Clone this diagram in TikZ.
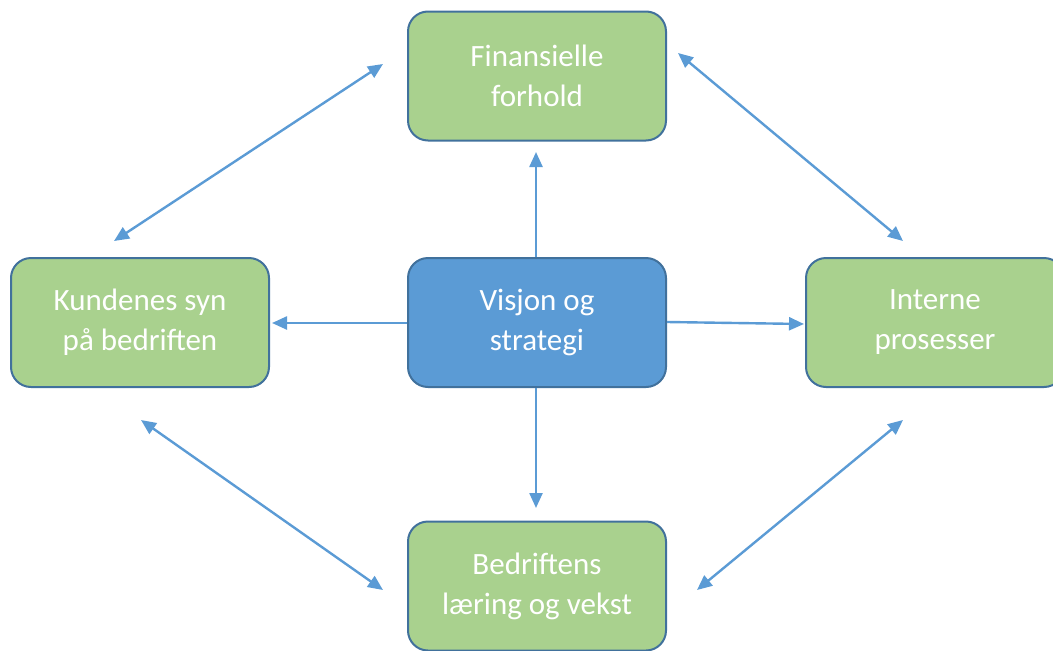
\documentclass[tikz,border=0pt]{standalone}
\usepackage{fontspec}
\setmainfont{Carlito}
\usetikzlibrary{arrows.meta}
\definecolor{boxgreen}{HTML}{A9D18E}
\definecolor{boxblue}{HTML}{5B9BD5}
\definecolor{boxedge}{HTML}{41719C}
\definecolor{arrowblue}{HTML}{5B9BD5}
\tikzset{
  card/.style={draw=boxedge, line width=2pt, rounded corners=20pt, fill=boxgreen,
    minimum width=258pt, minimum height=129pt, inner sep=0pt, align=center,
    text=white, font=\fontsize{31}{40}\selectfont},
  maincard/.style={card, fill=boxblue},
  link/.style={draw=arrowblue, line width=2.4pt, -{Triangle[length=15pt,width=13pt]}},
  dlink/.style={draw=arrowblue, line width=2.4pt, {Triangle[length=15pt,width=13pt]}-{Triangle[length=15pt,width=13pt]}}
}
\begin{document}
\begin{tikzpicture}[x=1pt,y=-1pt]
\useasboundingbox (0,0) rectangle (1053,651);
\node[card] (fin) at (537,76) {Finansielle\\forhold};
\node[maincard] (vis) at (537,322.5) {Visjon og\\strategi};
\node[card] (kun) at (140,322.5) {Kundenes syn\\på bedriften};
\node[card] (int) at (935,322.5) {Interne\\prosesser};
\node[card] (bed) at (537,586) {Bedriftens\\læring og vekst};
% free ends of the straight arrows
\coordinate (tfin) at (536,152);
\coordinate (tkun) at (272,323);
\coordinate (tint) at (804,324);
\coordinate (tbed) at (536,508);
\draw[link] (vis.north -| tfin) -- (tfin);
\draw[link] (vis.west |- tkun) -- (tkun);
\draw[link] (vis.east |- 0,322) -- (tint);
\draw[link] (vis.south -| tbed) -- (tbed);
% diagonal double arrows
\coordinate (a1) at (114,241); \coordinate (a2) at (383,64);
\coordinate (b1) at (678,53);  \coordinate (b2) at (903,241);
\coordinate (c1) at (141,420); \coordinate (c2) at (383,590);
\coordinate (d1) at (903,420); \coordinate (d2) at (697,590);
\draw[dlink] (a1) -- (a2);
\draw[dlink] (b1) -- (b2);
\draw[dlink] (c1) -- (c2);
\draw[dlink] (d1) -- (d2);
\end{tikzpicture}
\end{document}
